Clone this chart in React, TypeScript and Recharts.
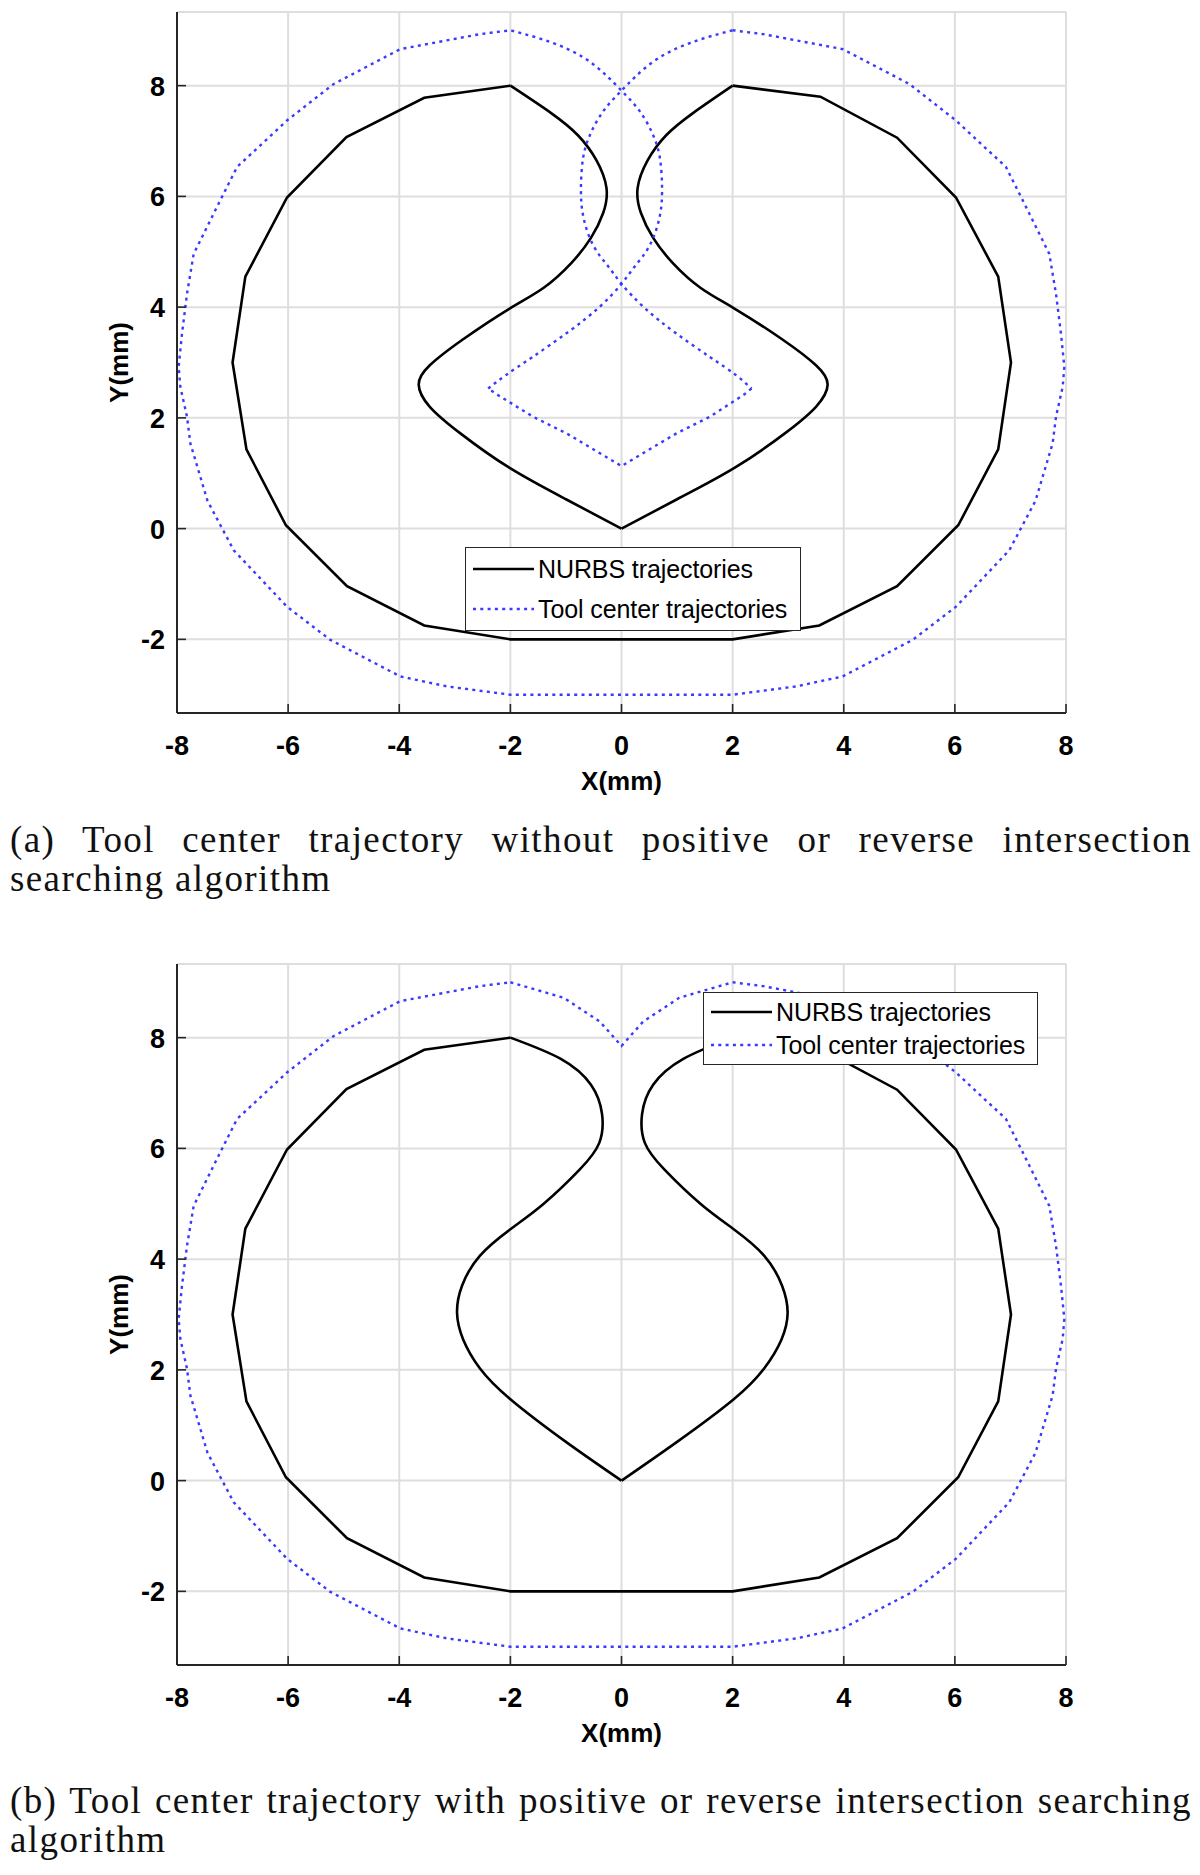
import React from 'react';
import { LineChart, Line, XAxis, YAxis, CartesianGrid, Legend } from 'recharts';

const xTicks = [-8, -6, -4, -2, 0, 2, 4, 6, 8];
const yTicks = [-2, 0, 2, 4, 6, 8];
const xDomain: [number, number] = [-8, 8];
const yDomain: [number, number] = [-3.33, 9.33];
const seriesNames = ['NURBS trajectories', 'Tool center trajectories'];
const captionA = ['(a) Tool center trajectory without positive or reverse intersection', 'searching algorithm'];
const captionB = ['(b) Tool center trajectory with positive or reverse intersection searching', 'algorithm'];

type P = [number, number][];

// NURBS outer polygon (same in both panels), from (-2,8) round to (2,8)
const nurbsOuter: P = [
  [-2, 8], [-3.55, 7.78], [-4.95, 7.07], [-6.02, 5.98], [-6.77, 4.55], [-7.0, 3.0], [-6.75, 1.43],
  [-6.04, 0.06], [-4.94, -1.04], [-3.55, -1.75], [-2, -2], [2, -2], [3.56, -1.75], [4.96, -1.04],
  [6.06, 0.06], [6.78, 1.43], [7.01, 3.0], [6.78, 4.55], [6.02, 5.98], [4.96, 7.06], [3.58, 7.8], [2, 8],
];

// (a) NURBS inner parts (smooth)
const nurbsInnerLeftA: P = [
  [-2, 8], [-1.26, 7.5], [-0.78, 7.1], [-0.45, 6.65], [-0.27, 6.15], [-0.33, 5.7], [-0.55, 5.25],
  [-0.9, 4.8], [-1.4, 4.35], [-2.02, 3.97], [-2.85, 3.42], [-3.45, 2.95], [-3.65, 2.6], [-3.45, 2.2],
  [-2.9, 1.72], [-2.02, 1.1], [-1.0, 0.53], [0, 0],
];
const nurbsInnerRightA: P = [
  [2, 8], [1.28, 7.5], [0.8, 7.1], [0.47, 6.65], [0.29, 6.15], [0.35, 5.7], [0.57, 5.25],
  [0.92, 4.8], [1.42, 4.35], [2.04, 3.97], [2.89, 3.42], [3.5, 2.95], [3.71, 2.6], [3.5, 2.2],
  [2.94, 1.72], [2.04, 1.1], [1.0, 0.53], [0, 0],
];

// Tool center outer polygon (same in both panels), from (2,9) round to (-2,9)
const toolOuter: P = [
  [2, 9.0], [2.55, 8.93], [3.98, 8.66], [5.18, 8.03], [6.02, 7.37], [6.92, 6.53], [7.34, 5.69],
  [7.7, 4.96], [7.82, 4.24], [7.91, 3.52], [7.97, 2.92], [7.94, 2.56], [7.82, 2.02], [7.76, 1.54],
  [7.45, 0.5], [6.98, -0.39], [6.02, -1.41], [5.24, -2.01], [3.98, -2.67], [3.14, -2.85], [2, -3.0],
  [-2, -3.0], [-3.14, -2.85], [-3.98, -2.67], [-5.24, -2.01], [-6.02, -1.41], [-6.98, -0.39],
  [-7.45, 0.5], [-7.76, 1.54], [-7.82, 2.02], [-7.94, 2.56], [-7.97, 2.92], [-7.91, 3.52],
  [-7.82, 4.24], [-7.7, 4.96], [-7.34, 5.69], [-6.92, 6.53], [-6.02, 7.37], [-5.18, 8.03],
  [-3.98, 8.66], [-2.55, 8.93], [-2, 9.0],
];

// (a) Tool center inner parts
const toolInnerRightA: P = [
  [2, 9.0], [1.23, 8.77], [0.54, 8.41], [0, 7.91], [-0.32, 7.55], [-0.55, 7.15], [-0.69, 6.7],
  [-0.73, 6.11], [-0.68, 5.6], [-0.5, 5.1], [-0.25, 4.75], [0, 4.42], [0.4, 4.0], [0.95, 3.55],
  [1.59, 3.1], [2.05, 2.78], [2.34, 2.53],
];
const toolBottomA: P = [
  [2.34, 2.53], [2.19, 2.41], [1.59, 2.02], [0.99, 1.72], [0, 1.13], [-0.99, 1.72], [-1.59, 2.02],
  [-2.22, 2.41], [-2.4, 2.53],
];
const toolInnerLeftA: P = [
  [-2.4, 2.53], [-2.07, 2.78], [-1.6, 3.1], [-0.96, 3.55], [-0.4, 4.0], [0, 4.42], [0.25, 4.75],
  [0.5, 5.1], [0.68, 5.6], [0.73, 6.11], [0.69, 6.7], [0.55, 7.15], [0.32, 7.55], [0, 7.91],
  [-0.54, 8.41], [-1.23, 8.77], [-2, 9.0],
];

// (b) NURBS inner parts (smooth)
const nurbsInnerLeftB: P = [
  [-2, 8], [-1.1, 7.62], [-0.55, 7.15], [-0.35, 6.62], [-0.4, 6.1], [-0.75, 5.62], [-1.4, 5.0],
  [-2.0, 4.54], [-2.55, 4.06], [-2.87, 3.52], [-2.96, 3.03], [-2.85, 2.55], [-2.55, 2.03],
  [-2.0, 1.47], [-1.0, 0.7], [0, 0],
];
const nurbsInnerRightB: P = [
  [2, 8], [1.12, 7.62], [0.57, 7.15], [0.37, 6.62], [0.42, 6.1], [0.77, 5.62], [1.42, 5.0],
  [2.02, 4.54], [2.57, 4.06], [2.89, 3.52], [2.99, 3.03], [2.88, 2.55], [2.57, 2.03],
  [2.02, 1.47], [1.0, 0.7], [0, 0],
];

// (b) Tool center top notch
const toolTopB: P = [
  [-2, 9.0], [-1.04, 8.72], [-0.39, 8.29], [0, 7.85], [0.39, 8.29], [1.04, 8.72], [2, 9.0],
];

const toPts = (a: P) => a.map(([x, y]) => ({ x, y }));

const AXIS_COLOR = '#262626';
const BLUE = '#3a3aff';
const TICK_FONT = '"Liberation Sans", Arial, sans-serif';

const BottomTick = (props: any) => {
  const { x, y, payload } = props;
  return (
    <g>
      <line x1={x} x2={x} y1={y} y2={y - 9} stroke={AXIS_COLOR} strokeWidth={1.6} />
      <text x={x} y={y + 42} textAnchor="middle" fontFamily={TICK_FONT} fontWeight="bold" fontSize={27} fill="#000">
        {payload.value}
      </text>
    </g>
  );
};

const LeftTick = (props: any) => {
  const { x, y, payload } = props;
  return (
    <g>
      <line x1={x} x2={x + 9} y1={y} y2={y} stroke={AXIS_COLOR} strokeWidth={1.6} />
      <text x={x - 12} y={y + 10} textAnchor="end" fontFamily={TICK_FONT} fontWeight="bold" fontSize={27} fill="#000">
        {payload.value}
      </text>
    </g>
  );
};

const LegendBox = ({ rowGap }: { rowGap: number }) => (
  <div
    style={{
      width: '100%',
      height: '100%',
      boxSizing: 'border-box',
      border: `1.6px solid ${AXIS_COLOR}`,
      background: '#fff',
      display: 'flex',
      flexDirection: 'column',
      justifyContent: 'center',
      gap: rowGap,
      fontFamily: TICK_FONT,
      fontSize: 25,
      color: '#000',
    }}
  >
    {seriesNames.map((name, i) => (
      <div key={name} style={{ display: 'flex', alignItems: 'center', height: 28 }}>
        <svg width={72} height={28} style={{ flex: 'none' }}>
          <line
            x1={7}
            x2={68}
            y1={14}
            y2={14}
            stroke={i === 0 ? '#000' : BLUE}
            strokeWidth={i === 0 ? 2.6 : 2.4}
            strokeDasharray={i === 0 ? undefined : '3 4.3'}
          />
        </svg>
        <span style={{ whiteSpace: 'nowrap', letterSpacing: -0.1 }}>{name}</span>
      </div>
    ))}
  </div>
);

type Seg = { pts: P; smooth: boolean };
type PanelProps = {
  nurbs: Seg[];
  tool: Seg[];
  legendPos: { left: number; top: number; width: number; height: number; gap: number };
};

const Panel = ({ nurbs, tool, legendPos }: PanelProps) => (
  <LineChart width={1200} height={800} margin={{ top: 12, right: 134, bottom: 7, left: 117 }}>
    <CartesianGrid stroke="#dedede" strokeWidth={2} />
    <XAxis
      dataKey="x"
      type="number"
      domain={xDomain}
      ticks={xTicks}
      allowDataOverflow
      height={80}
      tickSize={0}
      tickMargin={0}
      tickLine={false}
      tick={<BottomTick />}
      axisLine={{ stroke: AXIS_COLOR, strokeWidth: 2 }}
      label={{
        value: 'X(mm)',
        position: 'insideTop',
        offset: 59,
        fill: '#000',
        fontSize: 26,
        fontWeight: 'bold',
        fontFamily: TICK_FONT,
      }}
    />
    <XAxis
      xAxisId="top"
      orientation="top"
      type="number"
      domain={xDomain}
      ticks={xTicks}
      allowDataOverflow
      height={0}
      mirror
      tick={false}
      tickSize={9}
      tickLine={{ stroke: AXIS_COLOR, strokeWidth: 1.6 }}
      axisLine={{ stroke: AXIS_COLOR, strokeWidth: 2 }}
    />
    <YAxis
      type="number"
      domain={yDomain}
      ticks={yTicks}
      allowDataOverflow
      width={60}
      tickSize={0}
      tickMargin={0}
      tickLine={false}
      tick={<LeftTick />}
      axisLine={{ stroke: AXIS_COLOR, strokeWidth: 2 }}
      label={{
        value: 'Y(mm)',
        angle: -90,
        position: 'insideLeft',
        offset: 2,
        textAnchor: 'middle',
        fill: '#000',
        fontSize: 26,
        fontWeight: 'bold',
        fontFamily: TICK_FONT,
      }}
    />
    <YAxis
      yAxisId="right"
      orientation="right"
      type="number"
      domain={yDomain}
      ticks={yTicks}
      allowDataOverflow
      width={0}
      mirror
      tick={false}
      tickSize={9}
      tickLine={{ stroke: AXIS_COLOR, strokeWidth: 1.6 }}
      axisLine={{ stroke: AXIS_COLOR, strokeWidth: 2 }}
    />
    {nurbs.map((s, i) => (
      <Line
        key={'n' + i}
        data={toPts(s.pts)}
        dataKey="y"
        name={seriesNames[0]}
        type={s.smooth ? 'natural' : 'linear'}
        stroke="#000"
        strokeWidth={2.6}
        dot={false}
        activeDot={false}
        legendType="none"
        isAnimationActive={false}
      />
    ))}
    {tool.map((s, i) => (
      <Line
        key={'t' + i}
        data={toPts(s.pts)}
        dataKey="y"
        name={seriesNames[1]}
        type={s.smooth ? 'natural' : 'linear'}
        stroke={BLUE}
        strokeWidth={2.4}
        strokeDasharray="3 4.3"
        dot={false}
        activeDot={false}
        legendType="none"
        isAnimationActive={false}
      />
    ))}
    <Legend
      layout="vertical"
      align="center"
      verticalAlign="middle"
      wrapperStyle={{
        left: legendPos.left,
        top: legendPos.top,
        width: legendPos.width,
        height: legendPos.height,
      }}
      content={() => <LegendBox rowGap={legendPos.gap} />}
    />
  </LineChart>
);

const captionStyle: React.CSSProperties = {
  position: 'absolute',
  left: 10,
  width: 1182,
  fontFamily: '"Liberation Serif", "Times New Roman", serif',
  fontSize: 37,
  lineHeight: '40px',
  letterSpacing: 1.4,
  color: '#111',
  whiteSpace: 'nowrap',
};

const Caption = ({ lines, top }: { lines: string[]; top: number }) => (
  <>
    <div style={{ ...captionStyle, top, textAlign: 'justify', textAlignLast: 'justify', whiteSpace: 'normal' }}>
      {lines[0]}
    </div>
    <div style={{ ...captionStyle, top: top + 39 }}>{lines[1]}</div>
  </>
);

const segsNurbsA: Seg[] = [
  { pts: nurbsOuter, smooth: false },
  { pts: nurbsInnerLeftA, smooth: true },
  { pts: nurbsInnerRightA, smooth: true },
];
const segsToolA: Seg[] = [
  { pts: toolOuter, smooth: false },
  { pts: toolInnerRightA, smooth: true },
  { pts: toolBottomA, smooth: false },
  { pts: toolInnerLeftA, smooth: true },
];
const segsNurbsB: Seg[] = [
  { pts: nurbsOuter, smooth: false },
  { pts: nurbsInnerLeftB, smooth: true },
  { pts: nurbsInnerRightB, smooth: true },
];
const segsToolB: Seg[] = [
  { pts: toolOuter, smooth: false },
  { pts: toolTopB, smooth: false },
];

export default function App() {
  return (
    <div style={{ position: 'absolute', left: 0, top: 0, width: 1200, height: 1875, background: '#fff', overflow: 'hidden' }}>
      <div style={{ position: 'absolute', left: 0, top: 0 }}>
        <Panel nurbs={segsNurbsA} tool={segsToolA} legendPos={{ left: 465, top: 547, width: 336, height: 84, gap: 12 }} />
      </div>
      <Caption lines={captionA} top={820} />
      <div style={{ position: 'absolute', left: 0, top: 952 }}>
        <Panel nurbs={segsNurbsB} tool={segsToolB} legendPos={{ left: 703, top: 40, width: 335, height: 73, gap: 5 }} />
      </div>
      <Caption lines={captionB} top={1781} />
    </div>
  );
}
